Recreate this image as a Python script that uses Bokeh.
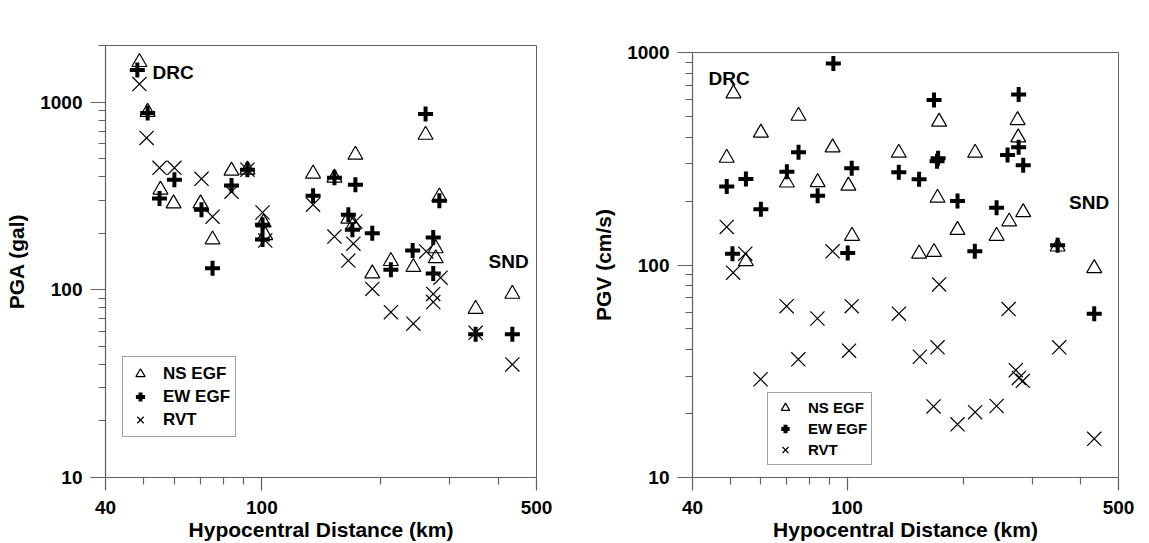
from bokeh.plotting import figure
from bokeh.layouts import row, column
from bokeh.models import FixedTicker, CustomJSTickFormatter, Label, Spacer
from bokeh.embed import file_html
from bokeh.resources import INLINE

FONT = "Liberation Sans"
AX = "#606060"

# ---------------- data : panel a (PGA, gal) ----------------
a_ns_dist = [48.8, 51.2, 55.2, 59.6, 69.8, 74.9, 83.7, 91.9, 101, 102, 135, 153,
             173, 166, 171, 191, 213, 243, 261, 277, 277, 283, 350, 434]
a_ns_pga = [1630, 885, 341, 288, 288, 185, 430, 436, 228, 195, 415, 395,
            523, 239, 222, 122, 142, 132, 668, 166, 147, 313, 79, 95]

a_ew_dist = [48.2, 51.2, 59.9, 54.9, 70.2, 83.7, 91.9, 74.9, 100.4, 100.4, 135, 261,
             153, 173, 283, 166, 170, 191, 242, 273, 213, 273, 350, 434]
a_ew_pga = [1479, 874, 386, 306, 267, 359, 436, 130, 222, 185, 317, 864,
            395, 363, 298, 251, 209, 200, 162, 190, 128, 122, 58, 58]

a_rvt_dist = [48.8, 50.9, 54.9, 59.9, 70.2, 74.9, 83.7, 91.9, 100.4, 102, 135, 153,
              173, 171, 166, 191, 213, 243, 262, 285, 273, 273, 350, 434]
a_rvt_pga = [1246, 644, 446, 446, 390, 245, 333, 436, 258, 183, 284, 192,
             231, 176, 143, 101, 76, 66, 160, 116, 95, 86, 59, 40]

# ---------------- data : panel b (PGV, cm/s) ----------------
b_ns_dist = [51.0, 49.0, 60.0, 75.0, 70.0, 84.0, 91.8, 100.8, 135.9, 103, 54.9, 172.6,
             213.7, 274.9, 275.9, 171, 192.5, 153.3, 167.5, 242.7, 261.5, 284.2, 348.5, 433]
b_ns_pgv = [641, 319, 419, 503, 244, 245, 357, 236, 337, 137, 104, 472,
            337, 480, 398, 207, 146, 113, 115, 137, 160, 177, 122, 96.5]

b_ew_dist = [92.2, 75.0, 54.9, 49.0, 70.0, 60.0, 84.0, 102.8, 135.9, 50.7, 100.4, 167.5,
             276.6, 171.6, 170.5, 153.3, 192.5, 259, 276.6, 284.2, 242.7, 213.3, 348.5, 433]
b_ew_pgv = [887, 339, 254, 234, 275, 183, 212, 285, 273, 113, 114, 597,
            635, 318, 308, 253, 200, 329, 358, 295, 186, 116, 124, 59]

b_rvt_dist = [49.0, 54.7, 50.9, 91.8, 69.9, 83.9, 59.9, 74.9, 101.2, 102.8, 136, 172.6,
              154, 171, 260.6, 351.8, 272, 277, 283.6, 167, 192.5, 213.7, 242.7, 433]
b_rvt_pgv = [151, 113, 92, 116, 64, 56, 29, 36, 39.5, 64, 59, 81,
             37, 41, 62, 41, 32, 29.4, 28.5, 21.6, 17.8, 20.3, 21.7, 15.2]

# ---------------- labels / ticks ----------------
x_label = "Hypocentral Distance (km)"
a_ylabel = "PGA (gal)"
b_ylabel = "PGV (cm/s)"
series_names = ["NS EGF", "EW EGF", "RVT"]
x_ticks = [40, 100, 500]
x_minor = [50, 60, 70, 80, 90, 200, 300, 400]
y_ticks = [10, 100, 1000]
y_minor_a = [20, 30, 40, 50, 60, 70, 80, 90, 200, 300, 400, 500, 600, 700, 800, 900, 2000]
y_minor_b = [20, 30, 40, 50, 60, 70, 80, 90, 200, 300, 400, 500, 600, 700, 800, 900]

fmt = "return tick.toFixed(0);"


def make_panel(width, height, borders, yrange, ylabel, yminor, xs, ys, legend_loc,
               legend_font, legend_geom, letter, letter_pos, tags):
    left, right, top, bottom = borders
    p = figure(width=width, height=height, x_axis_type="log", y_axis_type="log",
               x_range=(40, 500), y_range=yrange, output_backend="svg",
               toolbar_location=None, min_border_left=left, min_border_right=right,
               min_border_top=top, min_border_bottom=bottom,
               x_axis_label=x_label, y_axis_label=ylabel)
    p.xgrid.visible = False
    p.ygrid.visible = False
    p.outline_line_color = AX
    p.outline_line_width = 1
    p.background_fill_color = "white"
    p.border_fill_color = "white"

    p.xaxis.ticker = FixedTicker(ticks=x_ticks, minor_ticks=x_minor)
    p.yaxis.ticker = FixedTicker(ticks=y_ticks, minor_ticks=yminor)
    for ax in (p.xaxis[0], p.yaxis[0]):
        ax.formatter = CustomJSTickFormatter(code=fmt)
        ax.axis_line_color = AX
        ax.axis_line_width = 1.2
        ax.major_tick_line_color = AX
        ax.minor_tick_line_color = AX
        ax.major_tick_line_width = 1.2
        ax.minor_tick_line_width = 1.2
        ax.major_tick_in = 0
        ax.minor_tick_in = 0
        ax.minor_tick_out = 7
        ax.major_label_text_font = FONT
        ax.major_label_text_font_style = "bold"
        ax.major_label_text_font_size = "19px"
        ax.major_label_text_color = "black"
        ax.axis_label_text_font = FONT
        ax.axis_label_text_font_style = "bold"
        ax.axis_label_text_font_size = "21px"
        ax.axis_label_text_color = "black"
    p.xaxis.major_tick_out = 13
    p.yaxis.major_tick_out = 15
    p.xaxis.major_label_standoff = 10
    p.yaxis.major_label_standoff = 8
    p.xaxis.axis_label_standoff = 1
    p.yaxis.axis_label_standoff = 9

    d_ns, v_ns, d_ew, v_ew, d_rv, v_rv = xs + ys
    p.scatter(d_ns, v_ns, marker="triangle", size=15, fill_color=None, line_color="black",
              line_width=1.2, legend_label=series_names[0])
    p.scatter(d_ew, v_ew, marker="cross", size=15, line_color="black",
              line_width=4, legend_label=series_names[1])
    p.scatter(d_rv, v_rv, marker="x", size=20, line_color="black",
              line_width=1.2, legend_label=series_names[2])

    gh, gw, padding, standoff = legend_geom
    lg = p.legend[0]
    lg.location = legend_loc
    lg.label_text_font = FONT
    lg.label_text_font_style = "bold"
    lg.label_text_font_size = legend_font
    lg.label_text_color = "black"
    lg.border_line_color = "#444444"
    lg.border_line_width = 1
    lg.background_fill_alpha = 1
    lg.padding = padding
    lg.spacing = 0
    lg.glyph_height = gh
    lg.label_height = gh
    lg.glyph_width = gw
    lg.label_standoff = standoff
    lg.margin = 0

    p.add_layout(Label(x=letter_pos[0], y=letter_pos[1], text=letter, text_font=FONT,
                       text_font_style="bold", text_font_size="28px",
                       text_baseline="alphabetic", text_color="black"))
    for (tx, ty, tt) in tags:
        p.add_layout(Label(x=tx, y=ty, text=tt, text_font=FONT, text_font_style="bold",
                           text_font_size="19px", text_baseline="alphabetic",
                           text_color="black"))
    return p


pa = make_panel(580, 543, (105, 44, 45, 66), (10, 2000), a_ylabel, y_minor_a,
                [a_ns_dist, a_ns_pga, a_ew_dist, a_ew_pga], [a_rvt_dist, a_rvt_pga],
                (17, 40), "17px", (23, 24, 5, 11), "a", (22.9, 2213),
                [(52.7, 1443, "DRC"), (377.5, 141.6, "SND")])

pb = make_panel(569, 536, (112, 31, 45, 66), (10, 1000), b_ylabel, y_minor_b,
                [b_ns_dist, b_ns_pgv, b_ew_dist, b_ew_pgv], [b_rvt_dist, b_rvt_pgv],
                (75, 12), "15px", (21, 26, 4, 10), "b", (23.0, 1205),
                [(44.0, 757, "DRC"), (372.8, 197.7, "SND")])

layout = row(pa, column(Spacer(width=569, height=7), pb))
open("out.html", "w").write(file_html(layout, INLINE))
